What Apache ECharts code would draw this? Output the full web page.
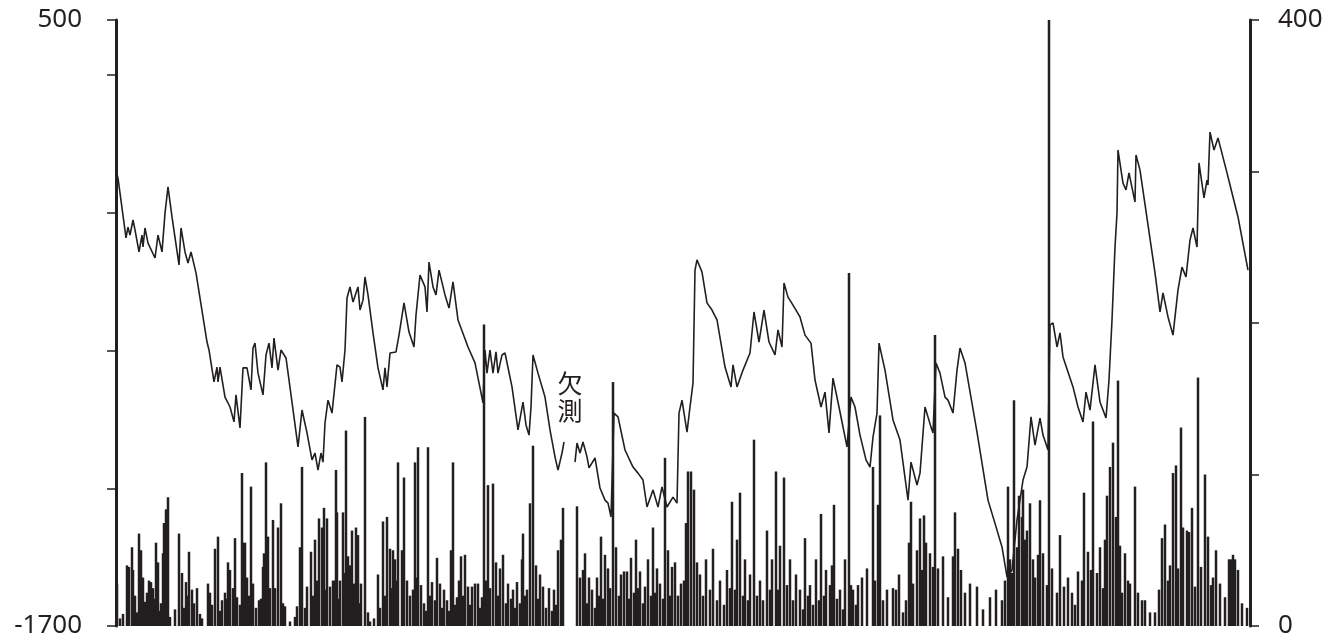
<!DOCTYPE html>
<html>
<head>
<meta charset="utf-8">
<script src="https://cdn.jsdelivr.net/npm/echarts@6/dist/echarts.min.js"></script>
<style>
  html, body { margin: 0; padding: 0; background: #fff; }
  #chart { width: 1330px; height: 642px; }
</style>
</head>
<body>
<div id="chart"></div>
<script>
// Groundwater level (left axis) and daily rainfall (right axis) over the observation period.
// x values are days from the start of the record.
const PERIOD_DAYS = 3402;

const levelDays = [
  0, 6, 30, 36, 42, 51, 57, 69, 78, 81,
  87, 96, 117, 126, 138, 147, 156, 168, 189, 195,
  207, 216, 225, 240, 273, 279, 294, 303, 306, 312,
  327, 342, 354, 360, 372, 381, 393, 405, 411, 417,
  426, 441, 450, 459, 468, 474, 486, 495, 510, 528,
  546, 558, 573, 588, 597, 606, 615, 621, 627, 636,
  648, 663, 672, 678, 687, 693, 702, 711, 726, 732,
  741, 747, 756, 771, 786, 801, 807, 813, 822, 840,
  849, 864, 879, 894, 900, 912, 927, 933, 939, 951,
  960, 969, 987, 999, 1011, 1026, 1056, 1077, 1101, 1107,
  1113, 1122, 1131, 1140, 1146, 1158, 1167, 1188, 1206, 1221,
  1230, 1239, 1245, 1251, 1266, 1287, 1302, 1317, 1326, 1338, 1344,
  1360,
  1377, 1383, 1392, 1401, 1413, 1419, 1437, 1452, 1467,
  1476, 1485, 1494, 1506, 1527, 1551, 1566, 1581, 1593, 1611,
  1626, 1638, 1653, 1671, 1683, 1689, 1698, 1713, 1722, 1731,
  1737, 1743, 1758, 1773, 1788, 1803, 1827, 1845, 1851, 1863,
  1881, 1902, 1914, 1929, 1944, 1959, 1977, 1986, 1998, 2004,
  2016, 2031, 2052, 2067, 2085, 2097, 2115, 2127, 2139, 2151,
  2169, 2193, 2205, 2217, 2232, 2250, 2262, 2271, 2283, 2289,
  2307, 2331, 2352, 2376, 2385, 2403, 2412, 2427, 2445, 2451,
  2460, 2472, 2487, 2496, 2511, 2523, 2532, 2547, 2583, 2616,
  2643, 2658, 2673, 2688, 2703, 2721, 2733, 2745, 2757, 2772,
  2781, 2796, 2802, 2811, 2823, 2832, 2841, 2871, 2886, 2901,
  2910, 2922, 2937, 2952, 2970, 2979, 2988, 2997, 3003, 3006,
  3021, 3030, 3039, 3057, 3060, 3072, 3117, 3132, 3141, 3156,
  3171, 3186, 3198, 3210, 3222, 3231, 3243, 3249, 3264, 3273,
  3276, 3282, 3294, 3306, 3333, 3348, 3366, 3396
];

// null marks the period without measurements
const levels = [
  -45, -74, -291, -252, -281, -226, -262, -342, -281, -324,
  -255, -310, -364, -281, -342, -201, -106, -215, -389, -255,
  -342, -382, -342, -418, -669, -698, -814, -760, -814, -760,
  -869, -905, -959, -861, -981, -763, -763, -843, -691, -673,
  -782, -861, -716, -673, -763, -655, -771, -698, -727, -887,
  -1050, -916, -999, -1097, -1072, -1134, -1072, -1105, -963, -880,
  -927, -752, -760, -814, -698, -509, -469, -524, -469, -553,
  -517, -433, -498, -636, -763, -843, -763, -832, -709, -705,
  -644, -527, -633, -687, -571, -426, -469, -560, -379, -469,
  -498, -408, -498, -546, -451, -589, -687, -745, -890, -698,
  -782, -698, -782, -705, -782, -716, -709, -832, -988, -887,
  -970, -1007, -905, -716, -782, -869, -988, -1086, -1134, -1072, -1032,
  null,
  -1105, -1036, -1072, -1032, -1086, -1126, -1090, -1199, -1243,
  -1254, -1304, -927, -941, -1061, -1123, -1145, -1170, -1268, -1206,
  -1268, -1195, -1268, -1232, -1254, -927, -880, -996, -905, -818,
  -408, -371, -415, -527, -553, -589, -760, -832, -752, -832,
  -771, -709, -560, -669, -553, -669, -716, -625, -687, -455,
  -506, -535, -578, -644, -673, -807, -905, -851, -999, -800,
  -905, -1050, -869, -905, -1007, -1097, -1123, -1014, -927, -673,
  -771, -952, -1025, -1243, -1105, -1188, -1145, -905, -978, -999,
  -745, -782, -869, -880, -927, -771, -691, -745, -996, -1243,
  -1352, -1413, -1522, -1497, -1315, -1170, -1123, -941, -1043, -945,
  -1007, -1061, -607, -600, -687, -636, -723, -832, -905, -959,
  -851, -916, -752, -887, -945, -807, -589, -324, -201, 28,
  -92, -117, -55, -161, 10, -45, -418, -560, -491, -578,
  -644, -480, -397, -433, -299, -255, -324, -19, -146, -81,
  -99, 93, 28, 72, -55, -128, -215, -408
];

const rainDays = [
  3, 12, 21, 33, 39, 48, 51, 57, 63, 69,
  75, 81, 87, 93, 99, 102, 105, 111, 117, 120,
  126, 132, 135, 141, 144, 150, 156, 162, 177, 189,
  198, 204, 210, 216, 219, 228, 234, 243, 252, 258,
  276, 282, 288, 297, 306, 312, 318, 327, 333, 336,
  342, 351, 357, 363, 372, 378, 381, 387, 393, 399,
  405, 411, 420, 429, 435, 441, 444, 450, 456, 462,
  471, 477, 486, 495, 501, 507, 522, 537, 543, 552,
  558, 567, 573, 585, 591, 597, 603, 609, 618, 624,
  630, 633, 642, 651, 657, 660, 663, 669, 672, 681,
  687, 690, 696, 702, 708, 714, 720, 726, 732, 735,
  747, 756, 762, 774, 786, 792, 801, 807, 813, 822,
  828, 831, 837, 843, 846,
  858, 864, 873, 882, 891, 897, 903, 906, 915, 924,
  930, 936, 942, 948, 957, 963, 972, 978, 984, 993,
  999, 1005, 1011, 1017, 1023, 1029, 1035, 1041, 1047, 1056,
  1062, 1068, 1077, 1086, 1092, 1098, 1104, 1110, 1116, 1122,
  1131, 1140, 1146, 1152, 1161, 1170, 1176, 1185, 1191, 1197,
  1203, 1212, 1218, 1221, 1227, 1233, 1242, 1251, 1260, 1266,
  1272, 1281, 1290, 1299, 1308, 1314, 1320, 1326, 1335, 1341,
  1383, 1392, 1401, 1407, 1413, 1419, 1428, 1437, 1443, 1449,
  1455, 1461, 1467, 1476, 1482, 1491, 1500, 1509, 1515, 1524,
  1533, 1539, 1545, 1554, 1560, 1566, 1572, 1581, 1587, 1596,
  1605, 1611, 1617, 1623, 1632, 1641, 1647, 1656, 1662, 1668,
  1677, 1686, 1695, 1704, 1710, 1716, 1725, 1734, 1743,
  1752, 1761, 1770, 1782, 1791, 1803, 1812, 1824, 1833, 1842,
  1848, 1857, 1863, 1872, 1881, 1887, 1896, 1902, 1914, 1923,
  1932, 1941, 1953, 1962, 1968, 1980, 1986, 1992, 2004, 2013,
  2022, 2031, 2040, 2052, 2061, 2067, 2076, 2082, 2091, 2100,
  2109, 2115, 2124, 2130, 2142, 2148, 2154, 2163, 2172, 2181,
  2187, 2199, 2205, 2211, 2220, 2226,
  2238, 2253, 2271, 2277, 2286, 2292, 2301, 2313, 2331, 2340,
  2349, 2361, 2370, 2379, 2385, 2391, 2403, 2412, 2418, 2424,
  2430, 2442, 2451, 2457, 2466, 2481, 2496, 2511, 2517, 2526,
  2535, 2547, 2562, 2583, 2601, 2622, 2640, 2658, 2667, 2676,
  2682, 2688, 2694, 2703, 2709, 2718, 2721, 2727, 2733, 2742,
  2751, 2757, 2766, 2772, 2781, 2793, 2799, 2808, 2823, 2832,
  2844, 2856, 2868, 2877, 2886, 2898, 2904, 2916, 2925, 2931,
  2943, 2952, 2961, 2967, 2973, 2982, 2991, 3000, 3006, 3012,
  3018, 3027, 3036, 3042, 3057, 3066, 3078, 3087, 3102, 3117,
  3129, 3138, 3147, 3156, 3162, 3171, 3180, 3186, 3195, 3201,
  3213, 3219, 3228, 3237, 3246, 3255, 3267, 3276, 3285, 3291,
  3300, 3312, 3327, 3339, 3345, 3351, 3357, 3366, 3378, 3393
];

const rainAmounts = [
  28, 5, 8, 40, 39, 52, 37, 20, 9, 61,
  50, 32, 16, 22, 30, 12, 29, 25, 18, 55,
  42, 10, 15, 48, 68, 77, 85, 6, 11, 61,
  35, 12, 29, 20, 49, 24, 15, 25, 8, 5,
  28, 22, 14, 51, 59, 10, 17, 22, 18, 42,
  37, 25, 58, 19, 14, 101, 55, 55, 32, 20,
  92, 28, 12, 17, 18, 39, 48, 108, 59, 25,
  70, 25, 65, 81, 15, 13, 3, 6, 13, 52,
  105, 12, 26, 49, 20, 57, 30, 71, 65, 78,
  24, 71, 26, 30, 30, 103, 75, 18, 30, 75,
  35, 129, 46, 40, 63, 28, 65, 60, 15, 28,
  138, 9, 3, 5, 34, 12, 69, 20, 72, 51,
  25, 50, 44, 30, 108,
  50, 98, 30, 20, 24, 108, 32, 118, 27, 15,
  10, 118, 20, 29, 17, 45, 28, 12, 24, 17,
  10, 50, 108, 14, 19, 30, 46, 20, 47, 26,
  14, 26, 28, 28, 12, 19, 199, 30, 93, 25,
  94, 42, 20, 38, 47, 15, 28, 18, 24, 12,
  29, 15, 44, 61, 20, 24, 81, 119, 40, 18,
  34, 26, 12, 25, 10, 24, 14, 50, 57, 78,
  79, 32, 37, 48, 15, 32, 24, 12, 32, 20,
  59, 18, 47, 38, 25, 161, 52, 20, 34, 36,
  36, 18, 45, 22, 57, 25, 36, 15, 26, 44,
  20, 65, 22, 38, 28, 18, 111, 50, 20, 39,
  42, 20, 28, 30, 68, 102, 102, 90, 42,
  34, 20, 44, 24, 51, 17, 30, 14, 37, 25,
  82, 24, 57, 88, 20, 44, 17, 34, 123, 20,
  30, 17, 63, 24, 44, 102, 24, 53, 98, 27,
  44, 17, 34, 24, 11, 58, 20, 27, 14, 44,
  17, 74, 20, 37, 27, 40, 80, 18, 24, 11,
  44, 233, 27, 24, 14, 27,
  32, 38, 105, 30, 80, 139, 17, 24, 25, 24,
  34, 9, 17, 55, 82, 28, 50, 71, 37, 73,
  55, 48, 39, 192, 38, 46, 19, 46, 75, 51,
  37, 22, 28, 26, 11, 19, 24, 17, 30, 92,
  44, 35, 149, 52, 86, 72, 90, 57, 63, 81,
  44, 32, 47, 83, 48, 27, 400, 38, 22, 60,
  26, 32, 22, 14, 36, 30, 88, 49, 37, 135,
  35, 52, 25, 57, 86, 105, 121, 72, 162, 53,
  22, 48, 30, 28, 92, 22, 17, 17, 9, 9,
  24, 58, 67, 30, 40, 101, 106, 38, 131, 65,
  63, 62, 78, 26, 164, 39, 100, 59, 27, 32,
  50, 28, 19, 44, 44, 47, 44, 37, 15, 12
];

// axis ranges and the tick values that carry a label
const levelAxis = { min: -1700, max: 500, step: 500, labelled: [-1700, 500] };
const rainAxis = { min: 0, max: 400, step: 100, labelled: [0, 400] };
const gapNote = { day: 1362, level: -869, text: '欠\n測' };

const INK = '#231f20';
const levelData = levelDays.map((d, i) => [d, levels[i]]);
const rainData = rainDays.map((d, i) => [d, rainAmounts[i]]);

function sideAxis(cfg, position, margin) {
  return {
    type: 'value',
    position: position,
    min: cfg.min,
    max: cfg.max,
    interval: cfg.step,
    axisLine: { show: true, lineStyle: { color: INK, width: 3 } },
    axisTick: { show: true, inside: false, length: 9, lineStyle: { color: INK, width: 1.5 } },
    axisLabel: {
      margin: margin,
      fontSize: 26,
      fontFamily: 'Noto Sans',
      color: INK,
      formatter: v => (cfg.labelled.indexOf(v) >= 0 ? String(v) : '')
    },
    splitLine: { show: false }
  };
}

const chart = echarts.init(document.getElementById('chart'), null, { renderer: 'canvas' });
chart.setOption({
  animation: false,
  backgroundColor: '#ffffff',
  grid: { left: 116, right: 80, top: 20, bottom: 16, containLabel: false },
  xAxis: { type: 'value', min: 0, max: PERIOD_DAYS, show: false },
  yAxis: [
    sideAxis(levelAxis, 'left', 34),
    sideAxis(rainAxis, 'right', 28)
  ],
  series: [
    {
      name: '降水量',
      type: 'bar',
      yAxisIndex: 1,
      data: rainData,
      barWidth: 2.5,
      itemStyle: { color: INK },
      z: 2
    },
    {
      name: '水位',
      type: 'line',
      yAxisIndex: 0,
      data: levelData,
      showSymbol: false,
      connectNulls: false,
      lineStyle: { color: INK, width: 1.6 },
      z: 3,
      markPoint: {
        symbol: 'circle',
        symbolSize: 0,
        silent: true,
        data: [{ coord: [gapNote.day, gapNote.level] }],
        label: {
          show: true,
          position: 'inside',
          formatter: gapNote.text,
          fontSize: 25,
          lineHeight: 27,
          fontFamily: 'Noto Sans CJK JP',
          color: INK
        }
      }
    }
  ]
});
</script>
</body>
</html>
